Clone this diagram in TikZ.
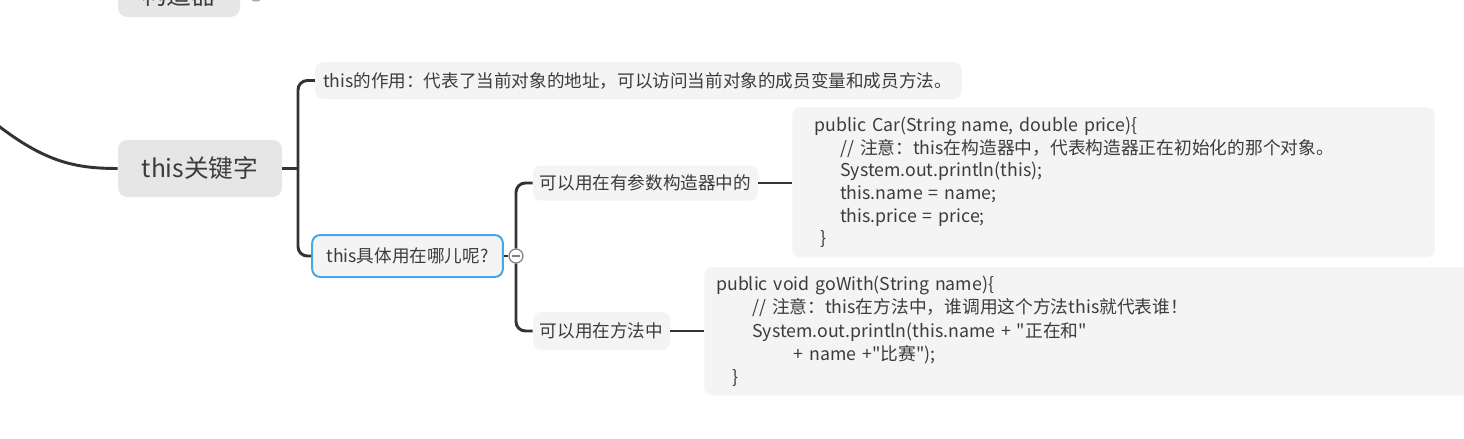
\documentclass[tikz,border=0pt]{standalone}
\usepackage{fontspec}
\setmainfont{Noto Sans CJK SC}[Ligatures=TeXOff]
\usetikzlibrary{positioning,calc}

\definecolor{linkgray}{HTML}{333333}
\definecolor{textgray}{HTML}{3C3C3C}
\definecolor{topicgray}{HTML}{E6E6E6}
\definecolor{subgray}{HTML}{F4F4F4}
\definecolor{selblue}{HTML}{45A8E6}

\begin{document}
\begin{tikzpicture}[x=0.75pt,y=-0.75pt]
    \tikzstyle{topic} = [rectangle, rounded corners=7pt, fill=topicgray, text=textgray, font=\fontsize{18.5}{22}\selectfont, inner sep=0pt]
    \tikzstyle{sub} = [rectangle, rounded corners=6pt, fill=subgray, text=textgray, font=\fontsize{13.2}{15}\selectfont, inner sep=0pt]
    \tikzstyle{code} = [sub, anchor=north west, align=left]
    \tikzstyle{link} = [draw=linkgray, line width=2.2pt, rounded corners=7pt]
    \tikzstyle{fold} = [circle, draw=gray, fill=white, line width=0.9pt, minimum size=10.5pt, inner sep=0pt]

    \clip (0,0) rectangle (1464,439);
    \fill[white] (0,0) rectangle (1464,439);

    % cut-off nodes at the top
    \node [topic, minimum width=91.5pt, minimum height=33pt] (prev) at (179,-5) {构造器};
    \node [fold, draw=gray!70] (prevfold) at (256,-6) {};

    % main topic
    \node [topic, minimum width=123pt, minimum height=42.75pt] (main) at (200,168.5) {this关键字};
    \coordinate (parent) at (-4,124);
    \draw [link] (parent) .. controls (45,162) and (75,168.5) .. (main.west);

    % first level
    \node [sub, inner xsep=6pt, text width=473pt, align=left, minimum height=27.75pt] (role) at (638.5,80.5) {this的作用：代表了当前对象的地址，可以访问当前对象的成员变量和成员方法。};
    \node [sub, draw=selblue, line width=1.5pt, minimum width=143pt, minimum height=31.5pt] (where) at (407.5,256) {this具体用在哪儿呢?};
    \coordinate (fork) at (298,168.5);
    \draw [link] (main.east) -- (fork);
    \draw [link] (role.west) -| (fork) |- (where.west);

    % second level
    \node [fold] (collapse) at (516,256) {};
    \draw [gray, line width=0.9pt] ($(collapse.center)+(-3pt,0)$) -- ($(collapse.center)+(3pt,0)$);
    \draw [link, rounded corners=0pt] (where.east) -- (collapse.west);
    \node [sub, minimum width=168.75pt, minimum height=26.25pt] (ctor) at (645.5,183) {可以用在有参数构造器中的};
    \node [sub, minimum width=102.75pt, minimum height=28.5pt] (meth) at (601.5,331) {可以用在方法中};
    \draw [link] (ctor.west) -| (collapse.north);
    \draw [link] (collapse.south) |- (meth.west);

    % code boxes
    \node [code, font=\fontsize{13.3}{17}\selectfont, inner xsep=17pt, minimum width=482pt, minimum height=112.5pt, text width=448pt] (ctorcode) at (792,107) {public Car(String name, double price)\{\\
\hspace*{19pt}// 注意：this在构造器中，代表构造器正在初始化的那个对象。\\
\hspace*{19pt}System.out.println(this);\\
\hspace*{19pt}this.name = name;\\
\hspace*{19pt}this.price = price;\\
\hspace*{4pt}\}};
    \node [code, font=\fontsize{13.3}{17.3}\selectfont, inner xsep=9pt, minimum width=600pt, minimum height=96pt, text width=582pt] (methcode) at (704,267) {public void goWith(String name)\{\\
\hspace*{27pt}// 注意：this在方法中，谁调用这个方法this就代表谁！\\
\hspace*{27pt}System.out.println(this.name + "正在和"\\
\hspace*{58pt}+ name +"比赛");\\
\hspace*{12pt}\}};
    \draw [link, rounded corners=0pt] (ctor.east) -- (ctorcode.west |- ctor.east);
    \draw [link, rounded corners=0pt] (meth.east) -- (methcode.west |- meth.east);
\end{tikzpicture}
\end{document}
